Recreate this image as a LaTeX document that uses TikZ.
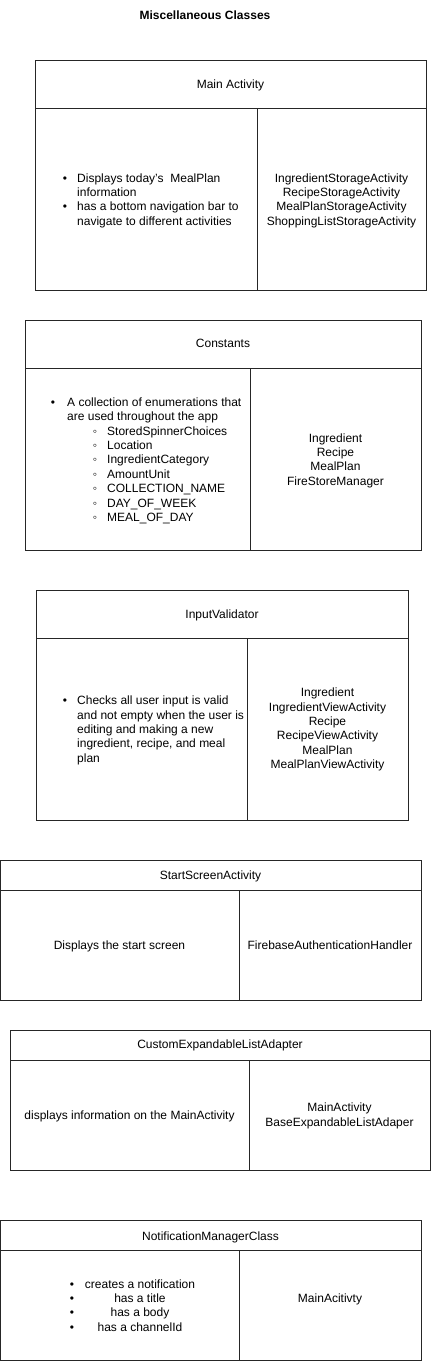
\documentclass[tikz,border=0pt]{standalone}
\usepackage{fontspec}
\setmainfont{Liberation Sans}
\begin{document}
\begin{tikzpicture}[x=1pt,y=-1pt,
  boxline/.style={draw=black!85, line width=1pt},
  txt/.style={inner sep=0pt, anchor=base, font=\fontsize{12}{14.4}\selectfont},
  txtl/.style={txt, anchor=base west}]
\useasboundingbox (0,0) rectangle (431,1361);
\newcommand\clsbox[6]{%
  \draw[boxline] (#1,#2) rectangle (#3,#6);
  \draw[boxline] (#1,#4) -- (#3,#4);
  \draw[boxline] (#5,#4) -- (#5,#6);}

\node[txt] (title) at (205,19) {\bfseries Miscellaneous Classes};

% Main Activity
\clsbox{35}{60}{426}{108}{257}{290}
\node[txt] (h1) at (230.5,88) {Main Activity};
\node[txt] (b1a) at (65,182) {•};
\node[txtl] (l1a) at (77,182) {Displays today's\ \ MealPlan};
\node[txtl] (l1b) at (77,196.4) {information};
\node[txt] (b1b) at (65,210.8) {•};
\node[txtl] (l1c) at (77,210.8) {has a bottom navigation bar to};
\node[txtl] (l1d) at (77,225.2) {navigate to different activities};
\foreach [count=\i] \t in {IngredientStorageActivity,RecipeStorageActivity,MealPlanStorageActivity,ShoppingListStorageActivity}
  \node[txt] (r1-\i) at (341.5,{182+14.4*(\i-1)}) {\t};

% Constants
\clsbox{25}{320}{421}{368}{250}{550}
\node[txt] (h2) at (223,347) {Constants};
\node[txt] (b2a) at (53,406.3) {•};
\node[txtl] (l2a) at (67,406.3) {A collection of enumerations that};
\node[txtl] (l2b) at (67,420.7) {are used throughout the app};
\foreach [count=\i] \t in {StoredSpinnerChoices,Location,IngredientCategory,AmountUnit,COLLECTION\_NAME,DAY\_OF\_WEEK,MEAL\_OF\_DAY}{
  \node[txt] (s2-\i) at (95,{435.1+14.4*(\i-1)}) {◦};
  \node[txtl] (l2-\i) at (107,{435.1+14.4*(\i-1)}) {\t};}
\foreach [count=\i] \t in {Ingredient,Recipe,MealPlan,FireStoreManager}
  \node[txt] (r2-\i) at (335.5,{442+14.4*(\i-1)}) {\t};

% InputValidator
\clsbox{36}{590}{408}{638}{247}{820}
\node[txt] (h3) at (222,618.5) {InputValidator};
\node[txt] (b3a) at (65,704.7) {•};
\foreach [count=\i] \t in {Checks all user input is valid,and not empty when the user is,editing and making a new,{ingredient, recipe, and meal},plan}
  \node[txtl] (l3-\i) at (77,{704.7+14.4*(\i-1)}) {\t};
\foreach [count=\i] \t in {Ingredient,IngredientViewActivity,Recipe,RecipeViewActivity,MealPlan,MealPlanViewActivity}
  \node[txt] (r3-\i) at (327.5,{696.7+14.4*(\i-1)}) {\t};

% StartScreenActivity
\clsbox{0.5}{860}{421}{890}{239}{1000}
\node[txt] (h4) at (210.5,879) {StartScreenActivity};
\node[txt] (l4) at (119.5,949) {Displays the start screen};
\node[txt] (r4) at (330,949) {FirebaseAuthenticationHandler};

% CustomExpandableListAdapter
\clsbox{10}{1030}{430}{1060}{249}{1170}
\node[txt] (h5) at (220,1048.3) {CustomExpandableListAdapter};
\node[txt] (l5) at (129.5,1119) {displays information on the MainActivity};
\node[txt] (r5a) at (339.5,1111.7) {MainActivity};
\node[txt] (r5b) at (339.5,1126.1) {BaseExpandableListAdaper};

% NotificationManagerClass
\clsbox{0.5}{1220}{421}{1250}{239}{1360}
\node[txt] (h6) at (210.5,1240) {NotificationManagerClass};
\foreach [count=\i] \t in {creates a notification,has a title,has a body,has a channelId}{
  \node[txt] (b6-\i) at (72,{1288+14.4*(\i-1)}) {•};
  \node[txt] (l6-\i) at (140,{1288+14.4*(\i-1)}) {\t};}
\node[txt] (r6) at (330,1302) {MainAcitivty};
\end{tikzpicture}
\end{document}
